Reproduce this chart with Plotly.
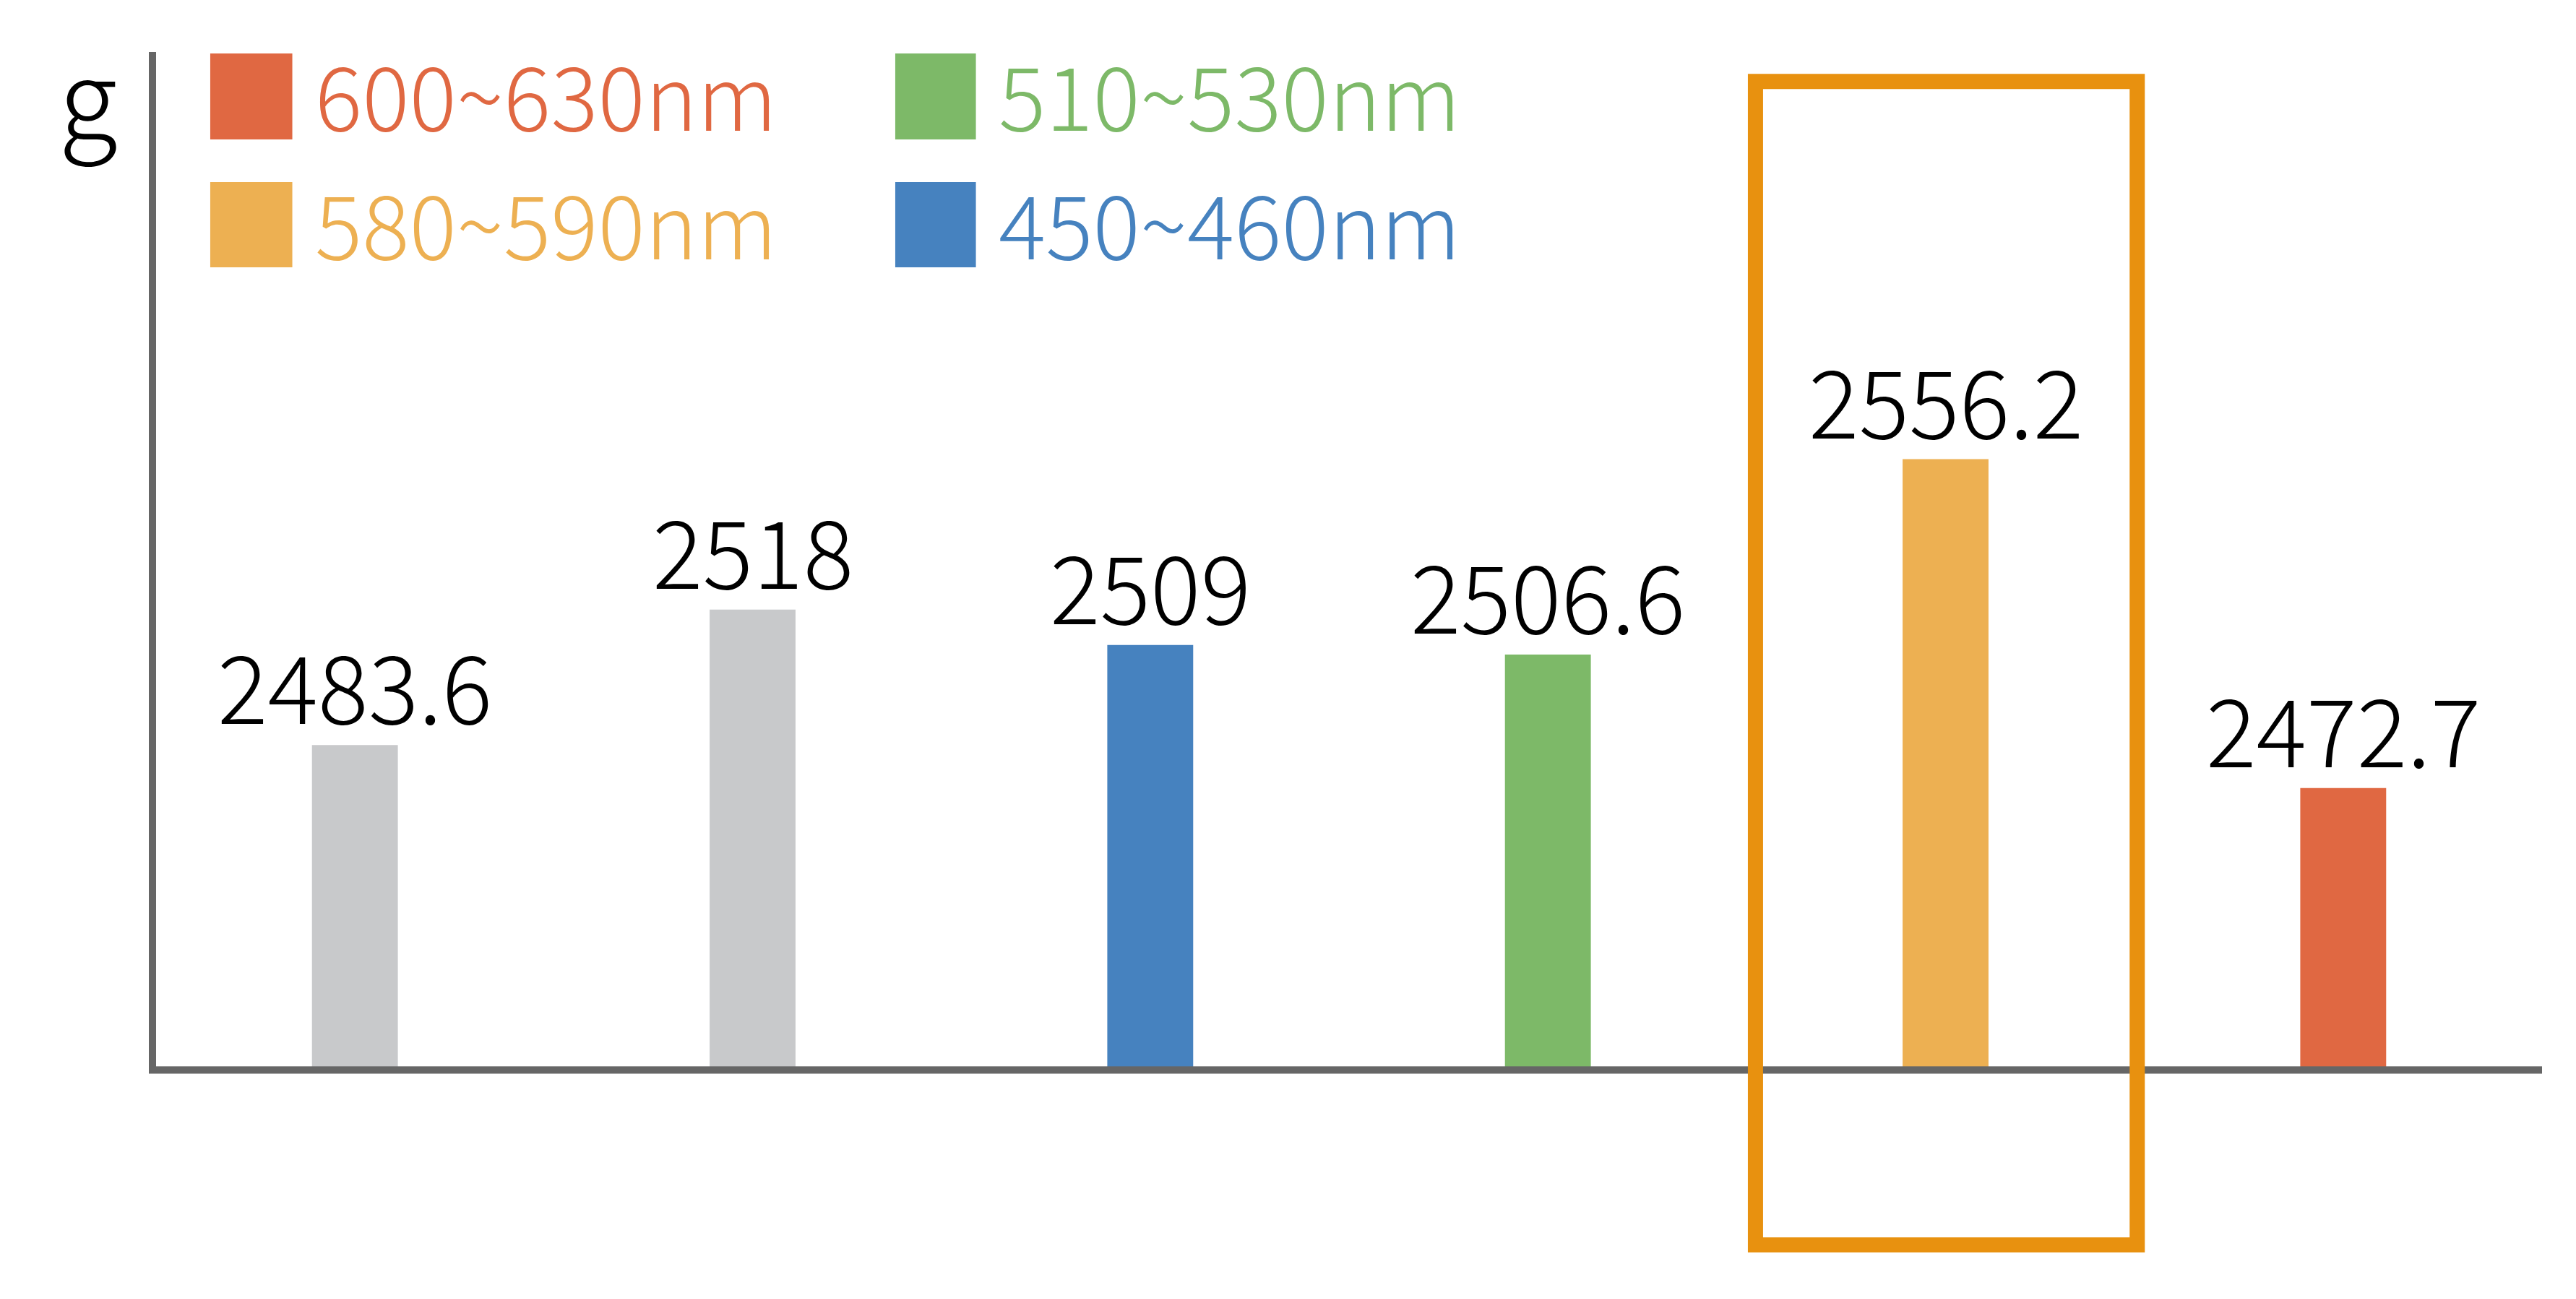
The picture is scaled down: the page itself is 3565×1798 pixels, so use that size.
import plotly.graph_objects as go

# bar data
categories = ["CK1", "CK2", "450~460nm", "510~530nm", "580~590nm", "600~630nm"]
values = [2483.6, 2518, 2509, 2506.6, 2556.2, 2472.7]
labels = ["2483.6", "2518", "2509", "2506.6", "2556.2", "2472.7"]
bar_colors = ["#C8C9CB", "#C8C9CB", "#4682BF", "#7DB968", "#EDB052", "#E06842"]

# legend entries (drawn by hand, two columns)
legend_names = ["600~630nm", "580~590nm", "510~530nm", "450~460nm"]
legend_colors = ["#E06842", "#EDB052", "#7DB968", "#4682BF"]

FONT = "Noto Sans CJK SC"

fig = go.Figure()
fig.add_trace(go.Bar(x=categories, y=values, marker=dict(color=bar_colors, line=dict(width=0)),
                     width=0.216, showlegend=False, hoverinfo="skip"))

# value labels just above each bar
for c, v, t in zip(categories, values, labels):
    fig.add_annotation(x=c, y=v, text=t, showarrow=False, xanchor="center", yanchor="bottom",
                       yshift=-9, borderpad=0,
                       font=dict(family=FONT, size=130, color="#000000", weight=300))

# highlight box around the 580~590nm bar
fig.add_shape(type="rect", xref="x", yref="paper", x0=3.522, x1=4.482, y0=-0.176, y1=0.971,
              line=dict(color="#E8910F", width=21), fillcolor="rgba(0,0,0,0)")

# legend squares + text
sq_x = [(0.0227, 0.0571), (0.0227, 0.0571), (0.3098, 0.3436), (0.3098, 0.3436)]
sq_y = [(0.9138, 0.9986), (0.7877, 0.8718), (0.9138, 0.9986), (0.7877, 0.8718)]
for name, col, (x0, x1), (y0, y1) in zip(legend_names, legend_colors, sq_x, sq_y):
    fig.add_shape(type="rect", xref="paper", yref="paper", x0=x0, x1=x1, y0=y0, y1=y1,
                  line=dict(width=0), fillcolor=col)
    fig.add_annotation(xref="paper", yref="paper", x=x1 + 0.0093, y=(y0 + y1) / 2,
                       xanchor="left", yanchor="middle", yshift=6, borderpad=0,
                       showarrow=False, text=name,
                       font=dict(family=FONT, size=122, color=col, weight=300))

# unit label
fig.add_annotation(xref="paper", yref="paper", x=-0.0284, y=0.9605, xanchor="center",
                   yanchor="middle", showarrow=False, text="g",
                   font=dict(family=FONT, size=150, color="#000000", weight=300))

# margins allow for the page's default 8px body offset
fig.update_layout(width=3565, height=1798, margin=dict(l=208, r=55, t=64, b=330),
                  plot_bgcolor="white", paper_bgcolor="white", showlegend=False)
fig.update_xaxes(showline=True, linecolor="#666666", linewidth=10, showticklabels=False,
                 ticks="", showgrid=False, zeroline=False, range=[-0.5, 5.5])
fig.update_yaxes(showline=True, linecolor="#666666", linewidth=10, showticklabels=False,
                 ticks="", showgrid=False, zeroline=False, range=[2402, 2659.6])

fig.write_html("out.html")
